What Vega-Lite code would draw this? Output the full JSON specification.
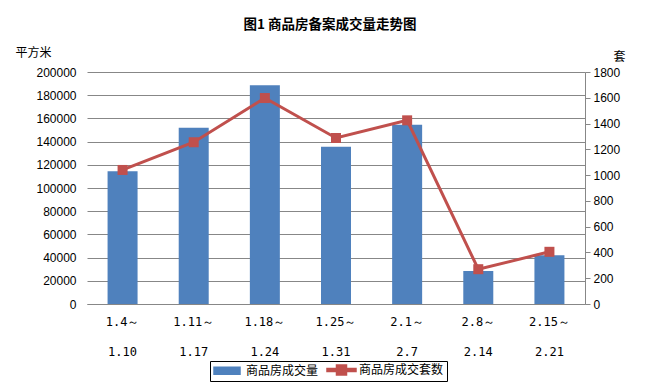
{
  "$schema": "https://vega.github.io/schema/vega-lite/v6.json",
  "autosize": "none",
  "width": 498,
  "height": 232,
  "padding": {"left": 87, "top": 72, "right": 69, "bottom": 84},
  "background": "white",
  "title": {
    "text": "图1 商品房备案成交量走势图",
    "font": "Noto Sans CJK SC",
    "fontSize": 13.5,
    "fontWeight": "bold",
    "color": "black",
    "anchor": "middle",
    "dx": -6,
    "offset": 15
  },
  "data": {
    "values": [
      {"period": "1.4～|1.10", "series": "商品房成交量", "value": 114500},
      {"period": "1.11～|1.17", "series": "商品房成交量", "value": 152000},
      {"period": "1.18～|1.24", "series": "商品房成交量", "value": 188500},
      {"period": "1.25～|1.31", "series": "商品房成交量", "value": 135500},
      {"period": "2.1～|2.7", "series": "商品房成交量", "value": 154500},
      {"period": "2.8～|2.14", "series": "商品房成交量", "value": 28500},
      {"period": "2.15～|2.21", "series": "商品房成交量", "value": 42000},
      {"period": "1.4～|1.10", "series": "商品房成交套数", "value": 1040},
      {"period": "1.11～|1.17", "series": "商品房成交套数", "value": 1255},
      {"period": "1.18～|1.24", "series": "商品房成交套数", "value": 1598},
      {"period": "1.25～|1.31", "series": "商品房成交套数", "value": 1288},
      {"period": "2.1～|2.7", "series": "商品房成交套数", "value": 1425},
      {"period": "2.8～|2.14", "series": "商品房成交套数", "value": 270},
      {"period": "2.15～|2.21", "series": "商品房成交套数", "value": 405}
    ]
  },
  "encoding": {
    "x": {
      "field": "period",
      "type": "nominal",
      "sort": null,
      "scale": {"paddingInner": 0, "paddingOuter": 0},
      "axis": {
        "title": null,
        "labelAngle": 0,
        "labelExpr": "split(datum.label, '|')",
        "labelLineHeight": 30,
        "labelPadding": 12,
        "labelBaseline": "top",
        "labelFont": "DejaVu Sans Mono",
        "labelFontSize": 12,
        "labelColor": "black",
        "ticks": false,
        "domain": true,
        "domainColor": "#878787",
        "grid": false
      }
    },
    "color": {
      "field": "series",
      "type": "nominal",
      "sort": null,
      "scale": {"domain": ["商品房成交量", "商品房成交套数"], "range": ["#4F81BD", "#C0504D"]},
      "legend": {
        "title": null,
        "orient": "none",
        "legendX": 123,
        "legendY": 289,
        "direction": "horizontal",
        "strokeColor": "black",
        "padding": 3,
        "symbolSize": 100,
        "labelOffset": 21,
        "columnPadding": 5,
        "labelFont": "Noto Sans CJK SC",
        "labelFontSize": 12,
        "labelColor": "black",
        "encoding": {
          "symbols": {
            "shape": {"value": {"expr": "datum.value === '商品房成交量' ? 'M-1,-0.7H4.2V0.7H-1Z' : 'M-1,-0.3H4.8V0.3H-1Z M0.9,-1H2.9V1H0.9Z'"}},
            "fill": {"value": {"expr": "datum.value === '商品房成交量' ? '#4F81BD' : '#C0504D'"}},
            "stroke": {"value": "transparent"}
          }
        }
      }
    }
  },
  "layer": [
    {
      "transform": [{"filter": "datum.series === '商品房成交量'"}],
      "mark": {"type": "bar", "size": 30},
      "encoding": {
        "y": {
          "field": "value",
          "type": "quantitative",
          "scale": {"domain": [0, 200000], "nice": false},
          "axis": {
            "title": "平方米",
            "titleAngle": 0,
            "titleX": -72,
            "titleY": -20,
            "titleAlign": "left",
            "titleBaseline": "middle",
            "titleFont": "Noto Sans CJK SC",
            "titleFontSize": 12,
            "titleFontWeight": "normal",
            "titleColor": "black",
            "values": [0, 20000, 40000, 60000, 80000, 100000, 120000, 140000, 160000, 180000, 200000],
            "format": "d",
            "domain": false,
            "ticks": false,
            "labelPadding": 11,
            "labelFont": "Liberation Sans",
            "labelFontSize": 12,
            "labelColor": "black",
            "grid": true,
            "gridColor": "#878787"
          }
        }
      }
    },
    {
      "transform": [{"filter": "datum.series === '商品房成交套数'"}],
      "mark": {
        "type": "line",
        "strokeWidth": 3,
        "point": {"shape": "square", "size": 100, "filled": true}
      },
      "encoding": {
        "y": {
          "field": "value",
          "type": "quantitative",
          "scale": {"domain": [0, 1800], "nice": false},
          "axis": {
            "orient": "right",
            "title": "套",
            "titleAngle": 0,
            "titleX": 28,
            "titleY": -16,
            "titleAlign": "left",
            "titleBaseline": "middle",
            "titleFont": "Noto Sans CJK SC",
            "titleFontSize": 12,
            "titleFontWeight": "normal",
            "titleColor": "black",
            "values": [0, 200, 400, 600, 800, 1000, 1200, 1400, 1600, 1800],
            "format": "d",
            "domain": true,
            "domainColor": "#878787",
            "ticks": true,
            "tickSize": 5,
            "tickColor": "#878787",
            "labelPadding": 3,
            "labelFont": "Liberation Sans",
            "labelFontSize": 12,
            "labelColor": "black",
            "grid": false
          }
        }
      }
    }
  ],
  "resolve": {"scale": {"y": "independent"}},
  "config": {"view": {"stroke": null}}
}
